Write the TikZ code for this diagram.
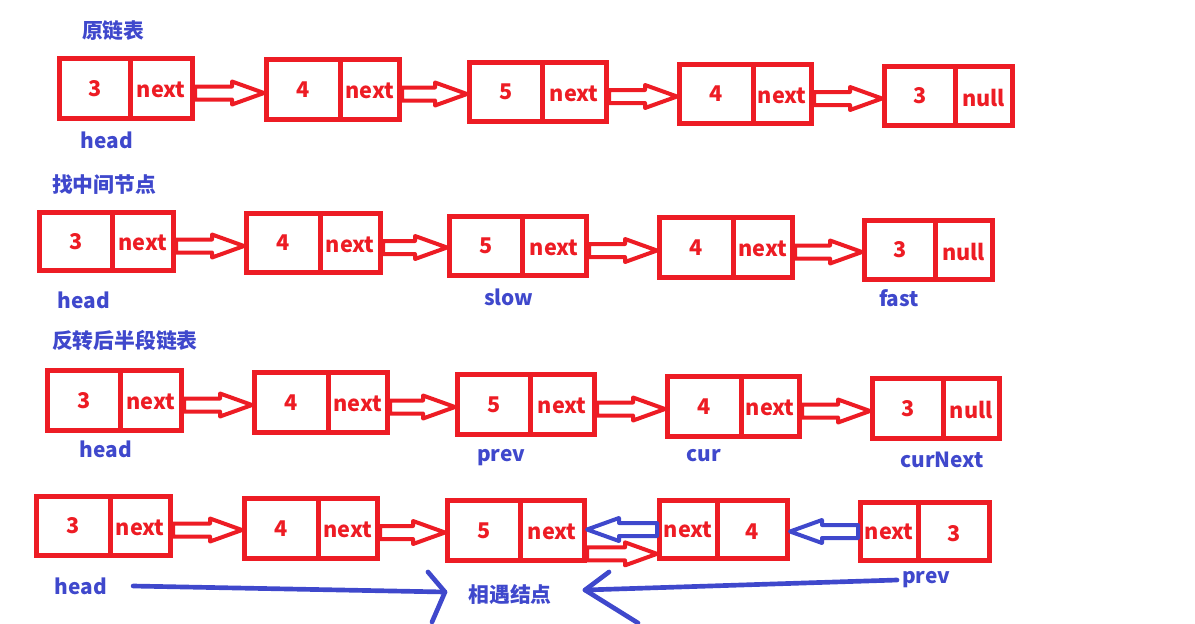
\documentclass[tikz,border=0pt]{standalone}
\usepackage{fontspec}
\setmainfont{Noto Sans CJK SC}
\usetikzlibrary{fit,calc}
\definecolor{pred}{HTML}{ED1C24}
\definecolor{pblue}{HTML}{3F48CC}
\tikzset{
  cell/.style={draw=pred, line width=3pt, inner sep=0pt},
  celltext/.style={text=pred, inner sep=0pt, font=\bfseries\fontsize{13}{15}\selectfont},
  lab/.style={text=pblue, inner sep=1pt, font=\bfseries\fontsize{12.5}{14}\selectfont},
  hollowR/.style={line width=2.4pt, line join=round, to path={let \p1=(\tikztostart), \p2=(\tikztotarget) in
    (\x1,\y1+3.9pt) -- (\x2-19.2pt,\y1+3.9pt) -- (\x2-19.2pt,\y1+6.9pt) -- (\x2,\y1)
    -- (\x2-19.2pt,\y1-6.9pt) -- (\x2-19.2pt,\y1-3.9pt) -- (\x1,\y1-3.9pt) -- cycle}},
  hollowL/.style={line width=2.4pt, line join=round, to path={let \p1=(\tikztostart), \p2=(\tikztotarget) in
    (\x1,\y1+3.9pt) -- (\x2+19.2pt,\y1+3.9pt) -- (\x2+19.2pt,\y1+6.9pt) -- (\x2,\y1)
    -- (\x2+19.2pt,\y1-6.9pt) -- (\x2+19.2pt,\y1-3.9pt) -- (\x1,\y1-3.9pt) -- cycle}},
  bline/.style={draw=pblue, line width=2.8pt, line cap=round, line join=round}
}
% name, x1, xd, x2, y1, y2, left text, right text
\newcommand\llbox[8]{%
  \node[cell, fit={(#2,#5)(#3,#6)}, label={[celltext]center:#7}] (#1a) {};
  \node[cell, fit={(#3,#5)(#4,#6)}, label={[celltext, yshift=-1pt]center:#8}] (#1b) {};
}
\begin{document}
\begin{tikzpicture}[x=0.6pt, y=-0.6pt]
\useasboundingbox (0,0) rectangle (1195,623);
% Row 1
\node[lab, anchor=west] (t1) at (80,31) {原链表};
\llbox{ra}{59.5}{130}{192.5}{58.5}{118.5}{3}{next}
\llbox{rb}{266.5}{340}{399.5}{59.5}{119.5}{4}{next}
\llbox{rc}{469.5}{542}{606.5}{62.5}{121.5}{5}{next}
\llbox{rd}{679.5}{753}{811.5}{64.5}{123.5}{4}{next}
\llbox{re}{884.5}{955}{1012.5}{66.5}{125.5}{3}{null}
\draw[pred, hollowR] ([yshift=-2.7pt]rab.east) to (rba.west);
\draw[pred, hollowR] ([yshift=-2.7pt]rbb.east) to (rca.west);
\draw[pred, hollowR] ([yshift=-2.7pt]rcb.east) to (rda.west);
\draw[pred, hollowR] ([yshift=-2.7pt]rdb.east) to (rea.west);
\node[lab] (h1) at (107,140) {head};
% Row 2
\node[lab, anchor=west] (t2) at (50,185) {找中间节点};
\llbox{sa}{39.5}{112}{173.5}{212.5}{270.5}{3}{next}
\llbox{sb}{246.5}{320}{380.5}{213.5}{272.5}{4}{next}
\llbox{sc}{449.5}{522}{586.5}{216.5}{275.5}{5}{next}
\llbox{sd}{659.5}{733}{792.5}{217.5}{277.5}{4}{next}
\llbox{se}{864.5}{935}{992.5}{220.5}{279.5}{3}{null}
\draw[pred, hollowR] ([yshift=-2.7pt]sab.east) to (sba.west);
\draw[pred, hollowR] ([yshift=-2.7pt]sbb.east) to (sca.west);
\draw[pred, hollowR] ([yshift=-2.7pt]scb.east) to (sda.west);
\draw[pred, hollowR] ([yshift=-2.7pt]sdb.east) to (sea.west);
\node[lab] (h2) at (84,300) {head};
\node[lab] (slow) at (509,297) {slow};
\node[lab] (fast) at (899,298) {fast};
% Row 3
\node[lab, anchor=west] (t3) at (50,340) {反转后半段链表};
\llbox{ua}{47.5}{120}{181.5}{370.5}{430.5}{3}{next}
\llbox{ub}{254.5}{328}{387.5}{372.5}{432.5}{4}{next}
\llbox{uc}{457.5}{530}{594.5}{374.5}{434.5}{5}{next}
\llbox{ud}{667.5}{741}{799.5}{376.5}{436.5}{4}{next}
\llbox{ue}{872.5}{943}{999.5}{378.5}{438.5}{3}{null}
\draw[pred, hollowR] ([yshift=-2.7pt]uab.east) to (uba.west);
\draw[pred, hollowR] ([yshift=-2.7pt]ubb.east) to (uca.west);
\draw[pred, hollowR] ([yshift=-2.7pt]ucb.east) to (uda.west);
\draw[pred, hollowR] ([yshift=-2.7pt]udb.east) to (uea.west);
\node[lab] (h3) at (106,449) {head};
\node[lab] (prev3) at (501,458) {prev};
\node[lab] (cur) at (704,456) {cur};
\node[lab] (curnext) at (942,460) {curNext};
% Row 4
\llbox{va}{36.5}{110}{170.5}{496.5}{555.5}{3}{next}
\llbox{vb}{244.5}{318}{377.5}{498.5}{558.5}{4}{next}
\llbox{vc}{447.5}{520}{584.5}{500.5}{560.5}{5}{next}
\llbox{vd}{659.5}{717}{787.5}{500.5}{558.5}{next}{4}
\llbox{ve}{860.5}{918}{989.5}{502.5}{560.5}{next}{3}
\draw[pred, hollowR] ([yshift=-2.4pt]vab.east) to (vba.west);
\draw[pred, hollowR] ([yshift=-2.4pt]vbb.east) to (vca.west);
\draw[pred, hollowR] ([yshift=-14pt]vcb.east) to (vda.west);
\draw[pblue, hollowL] (vda.west) to (vcb.east);
\draw[pblue, hollowL] (vea.west) to (vdb.east);
\node[lab] (h4) at (81,586) {head};
\node[lab] (meet) at (510,595) {相遇结点};
\node[lab] (prev4) at (926,580) {prev};
\coordinate (tipL) at (445,592);
\coordinate (tipR) at (585,590);
\draw[bline] (h4.east) ++(24,0) -- (tipL);
\draw[bline] (tipL) ++(-17,-20) -- (tipL) -- ++(-13,30);
\draw[bline] (prev4.west) ++(-3,0) -- (tipR);
\draw[bline] (tipR) ++(24,-18) -- (tipR) -- ++(53,33);
\end{tikzpicture}
\end{document}
